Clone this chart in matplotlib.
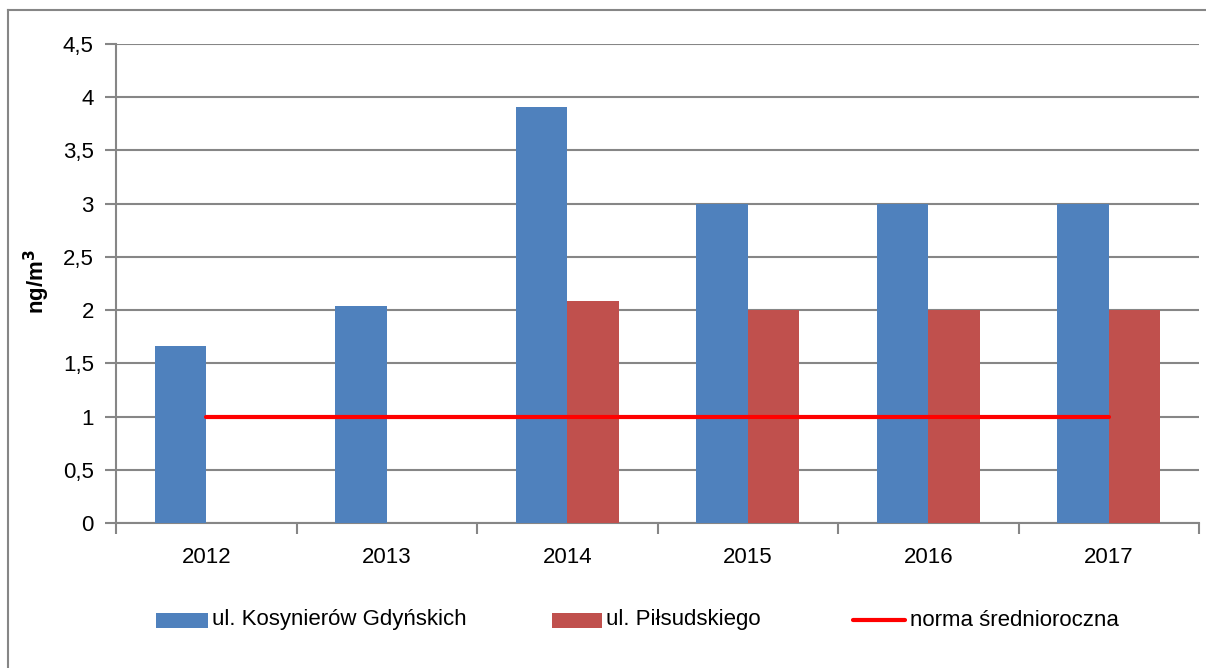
import matplotlib
matplotlib.use("Agg")
import matplotlib.pyplot as plt
import numpy as np
from matplotlib.lines import Line2D
from matplotlib.patches import Rectangle

years = ["2012", "2013", "2014", "2015", "2016", "2017"]
kosynierow = [1.66, 2.04, 3.91, 3.0, 3.0, 3.0]
pilsudskiego = [0, 0, 2.09, 2.0, 2.0, 2.0]
norma = [1, 1, 1, 1, 1, 1]
yticks = [0, 0.5, 1, 1.5, 2, 2.5, 3, 3.5, 4, 4.5]
ytick_labels = ["0", "0,5", "1", "1,5", "2", "2,5", "3", "3,5", "4", "4,5"]
series_names = ["ul. Kosynierów Gdyńskich", "ul. Piłsudskiego", "norma średnioroczna"]

plt.rcParams['font.family'] = ['Liberation Sans', 'DejaVu Sans']

W, H = 1206, 668
fs = 16
fig = plt.figure(figsize=(W / 100, H / 100), dpi=100)
ax = fig.add_axes([116 / W, (H - 523) / H, (1199 - 116) / W, (523 - 44) / H])

x = np.arange(len(years))
bw = 0.285
blue = "#4F81BD"
red = "#C0504D"
linec = "#FF0000"
grid_c = "#868686"

ax.bar(x - bw / 2, kosynierow, bw, color=blue, zorder=3)
ax.bar(x + bw / 2, pilsudskiego, bw, color=red, zorder=3)
ax.plot(x, norma, color=linec, lw=3.0, solid_capstyle="round", zorder=4)

ax.set_xlim(-0.5, len(years) - 0.5)
ax.set_ylim(0, 4.5)
ax.set_yticks(yticks)
ax.set_yticklabels(ytick_labels)
ax.yaxis.grid(True, color=grid_c, lw=1.5, zorder=0)
ax.set_axisbelow(True)

ax.set_xticks(x)
ax.set_xticklabels(years)
ax.set_xticks(np.arange(-0.5, len(years), 1.0), minor=True)
ax.tick_params(axis='x', which='major', length=0, pad=17, labelsize=fs)
ax.tick_params(axis='x', which='minor', length=8, width=1.5, color=grid_c, direction='out')
ax.tick_params(axis='y', length=8, width=1.5, color=grid_c, pad=8, labelsize=fs)

for s in ["top", "right"]:
    ax.spines[s].set_visible(False)
for s in ["left", "bottom"]:
    ax.spines[s].set_color(grid_c)
    ax.spines[s].set_linewidth(1.5)

fig.text(37 / W, 1 - 282 / H, "ng/m$^\\mathbf{3}$", rotation=90, fontsize=16,
         fontweight="bold", ha="center", va="center")

# legend, laid out like the original
ly = 1 - 620 / H
ph = 15 / H
fig.add_artist(Rectangle((156 / W, ly - ph / 2), 52 / W, ph, facecolor=blue,
                         transform=fig.transFigure))
fig.text(212 / W, ly, series_names[0], fontsize=fs, ha="left", va="center")
fig.add_artist(Rectangle((552 / W, ly - ph / 2), 50 / W, ph, facecolor=red,
                         transform=fig.transFigure))
fig.text(606 / W, ly, series_names[1], fontsize=fs, ha="left", va="center")
fig.add_artist(Line2D([853 / W, 905 / W], [ly, ly], color=linec, lw=3.0,
                      solid_capstyle="round", transform=fig.transFigure))
fig.text(910 / W, ly, series_names[2], fontsize=fs, ha="left", va="center")

# outer chart border (top and left visible)
fig.add_artist(Line2D([8 / W, 1.0], [1 - 10 / H, 1 - 10 / H], color=grid_c, lw=1.5,
                      transform=fig.transFigure))
fig.add_artist(Line2D([8 / W, 8 / W], [0, 1 - 10 / H], color=grid_c, lw=1.5,
                      transform=fig.transFigure))

fig.savefig("out.png", dpi=100)
